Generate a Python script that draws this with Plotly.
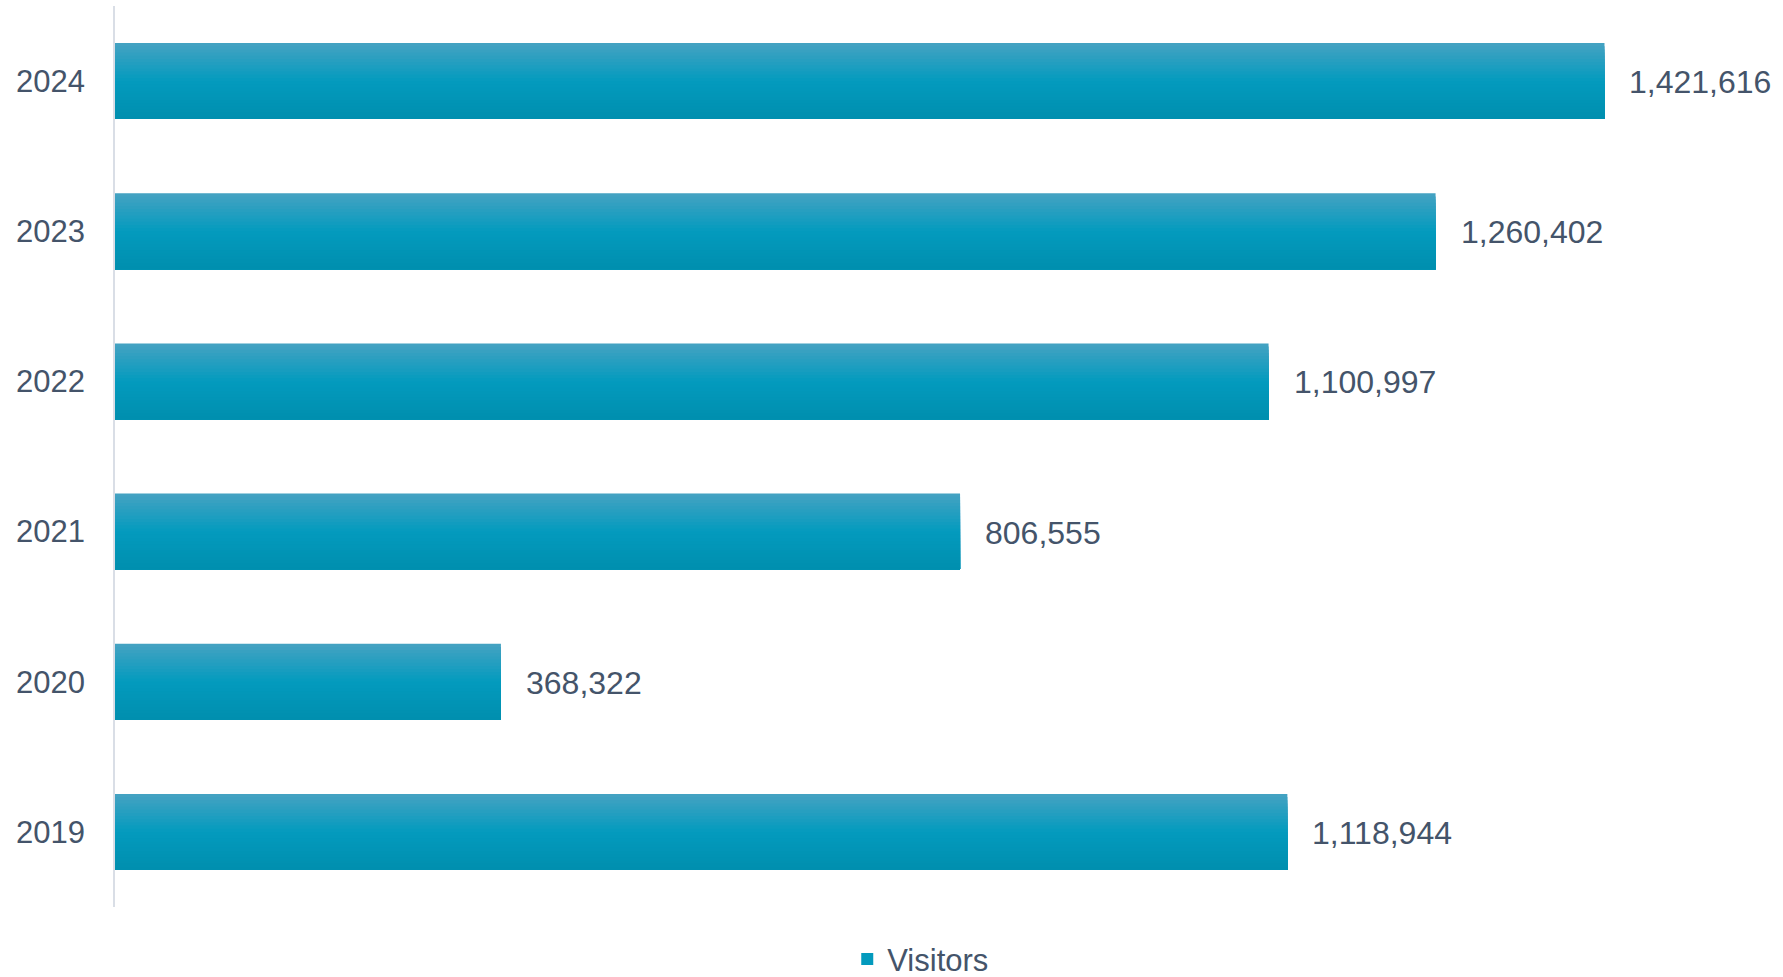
import plotly.graph_objects as go

# Annual visitor counts
years = ["2019", "2020", "2021", "2022", "2023", "2024"]
visitors = [1118944, 368322, 806555, 1100997, 1260402, 1421616]
series_name = "Visitors"

TEXT_COLOR = "#44546A"
FONT = "Liberation Sans, Arial, sans-serif"

# Vertical gradient of the bar fill, top to bottom
grad_stops = [(0.0, (0x46, 0xA2, 0xC2)), (0.5, (0x03, 0x9B, 0xBE)), (1.0, (0x00, 0x8E, 0xAE))]


def grad_color(t):
    for (t0, c0), (t1, c1) in zip(grad_stops[:-1], grad_stops[1:]):
        if t0 <= t <= t1:
            f = (t - t0) / (t1 - t0)
            return "rgb(%d,%d,%d)" % tuple(round(a + (b - a) * f) for a, b in zip(c0, c1))
    return "rgb(%d,%d,%d)" % grad_stops[-1][1]


BAR_W = 0.506   # bar thickness in category units
N_STRIPS = 24
strip = BAR_W / N_STRIPS

# Each layer spans from its own top edge down to the bar bottom; later
# layers sit on top, so together they form a smooth top-to-bottom gradient.
fig = go.Figure()
for i in range(N_STRIPS):
    top = BAR_W / 2 - i * strip
    fig.add_trace(go.Bar(
        y=years, x=visitors, orientation="h",
        base=0,
        width=top + BAR_W / 2,
        offset=-BAR_W / 2,
        marker=dict(color=grad_color((i + 0.5) / N_STRIPS), line=dict(width=0)),
        name=series_name,
        showlegend=(i == N_STRIPS // 2),
        hoverinfo="skip",
    ))

# Value labels to the right of each bar (category axis positions are indices)
for idx, v in enumerate(visitors):
    fig.add_annotation(
        x=v, y=idx, xref="x", yref="y",
        text=f"{v:,}", showarrow=False,
        xanchor="left", yanchor="middle", xshift=23, yshift=-1,
        font=dict(family=FONT, size=32, color=TEXT_COLOR),
    )

fig.update_layout(
    width=1783, height=977,
    margin=dict(l=115, r=0, t=6, b=70, autoexpand=False),
    paper_bgcolor="white", plot_bgcolor="white",
    barmode="overlay",
    font=dict(family=FONT, size=31, color=TEXT_COLOR),
    xaxis=dict(visible=False, range=[0, 1592000], showgrid=False, zeroline=False),
    yaxis=dict(
        type="category", categoryorder="array", categoryarray=years,
        range=[-0.5, len(years) - 0.5],
        showline=True, linecolor="#D9DEE6", linewidth=1.5,
        showgrid=False, zeroline=False, ticks="",
        ticklabelstandoff=22,
        tickfont=dict(family=FONT, size=31, color=TEXT_COLOR),
    ),
    legend=dict(
        orientation="h", x=0.439, xanchor="left", y=-0.058, yanchor="middle",
        font=dict(family=FONT, size=31, color=TEXT_COLOR),
        bgcolor="rgba(0,0,0,0)",
    ),
)

fig.write_html("out.html")
